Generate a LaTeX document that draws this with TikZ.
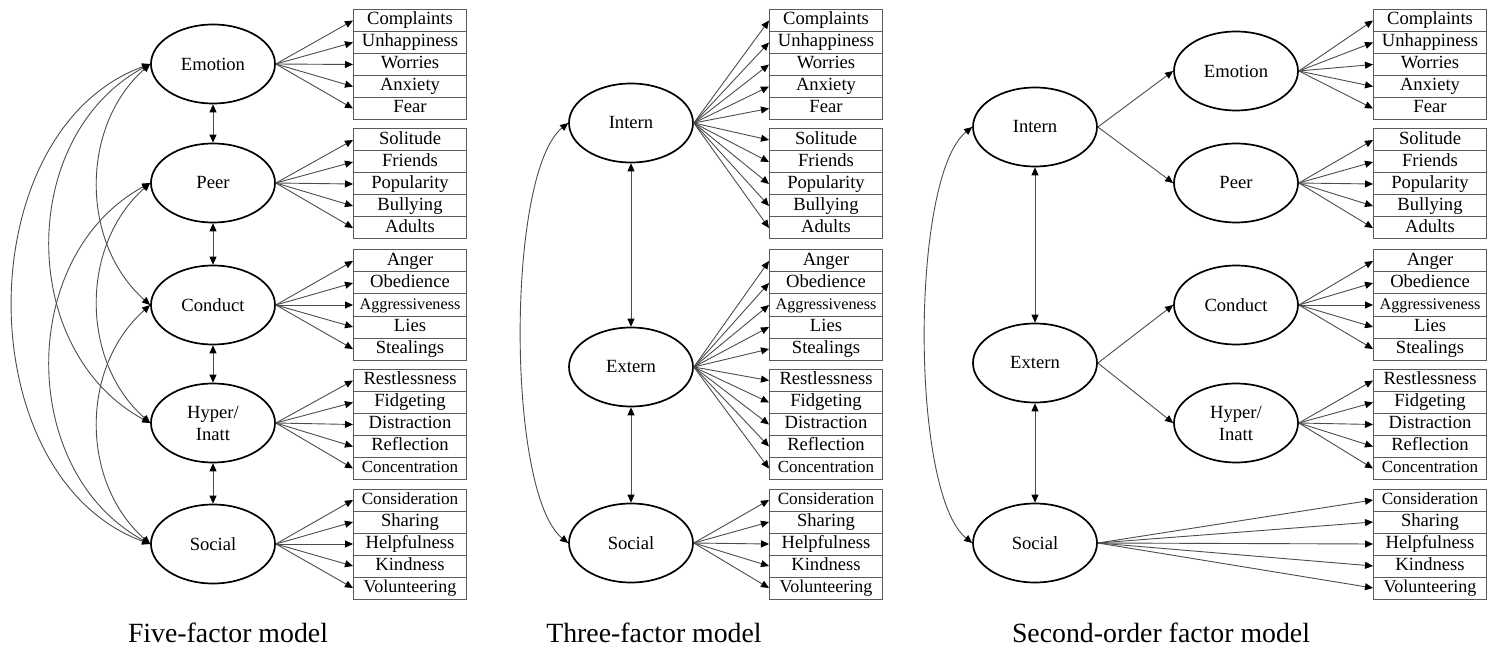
\documentclass[tikz,border=0pt]{standalone}
\usepackage{fontspec}
\setmainfont{Liberation Serif}
\usetikzlibrary{shapes.geometric,arrows.meta}

\newcommand{\grpi}{Complaints/18.6,Unhappiness/18.6,Worries/18.6,Anxiety/18.6,Fear/18.6}
\newcommand{\grpii}{Solitude/18.6,Friends/18.6,Popularity/18.6,Bullying/18.6,Adults/18.6}
\newcommand{\grpiii}{Anger/18.6,Obedience/18.6,Aggressiveness/16.2,Lies/18.6,Stealings/18.6}
\newcommand{\grpiv}{Restlessness/18.6,Fidgeting/18.6,Distraction/18.6,Reflection/18.6,Concentration/17.0}
\newcommand{\grpv}{Consideration/17.2,Sharing/18.6,Helpfulness/18.6,Kindness/18.6,Volunteering/18.0}

\newcommand{\obsset}[2]{%
  \foreach \gi/\gname/\cy in {1/grpi/64.5,2/grpii/184,3/grpiii/305,4/grpiv/424.5,5/grpv/544}{%
    \expandafter\let\expandafter\curlist\csname\gname\endcsname
    \foreach \lbltxt/\lblfs [count=\k from 0] in \curlist {%
      \node[obs, font=\fontsize{\lblfs}{\lblfs}\selectfont, anchor=west]
        (#1\gi-\k) at (#2, \cy+22*\k-44) {\lbltxt};
    }%
  }%
}

\begin{document}
\begin{tikzpicture}[x=1pt,y=-1pt,
  lat/.style={ellipse, draw=black, line width=1.7pt, minimum width=124pt,
    minimum height=79pt, inner sep=0pt, align=center,
    font=\fontsize{18.6}{22}\selectfont},
  obs/.style={rectangle, draw=black!65, line width=1pt, minimum width=113pt,
    minimum height=22pt, inner sep=0pt, text height=12.5pt, text depth=4pt},
  tip/.style={},
  pth/.style={draw=black!70, line width=0.9pt,
    -{Triangle[length=8pt,width=7pt,color=black,fill=black]}},
  cov/.style={draw=black!70, line width=0.9pt,
    {Triangle[length=8pt,width=7pt,color=black,fill=black]}-{Triangle[length=8pt,width=7pt,color=black,fill=black]}},
  ttl/.style={font=\fontsize{27.8}{30}\selectfont, inner sep=0pt}
]
\useasboundingbox (0,0) rectangle (1499,652);

% ---------------- Model 1: Five-factor ----------------
\obsset{A}{353}
\node[lat] (A-emo)  at (213,64)  {Emotion};
\node[lat] (A-peer) at (213,183) {Peer};
\node[lat] (A-cond) at (213,305) {Conduct};
\node[lat] (A-hyp)  at (213,423) {Hyper/\\Inatt};
\node[lat] (A-soc)  at (213,544) {Social};

\foreach \k in {0,...,4}{
  \draw[pth] (A-emo.east)  -- (A1-\k.west);
  \draw[pth] (A-peer.east) -- (A2-\k.west);
  \draw[pth] (A-cond.east) -- (A3-\k.west);
  \draw[pth] (A-hyp.east)  -- (A4-\k.west);
  \draw[pth] (A-soc.east)  -- (A5-\k.west);
}
\draw[cov] (A-emo) -- (A-peer);
\draw[cov] (A-peer) -- (A-cond);
\draw[cov] (A-cond) -- (A-hyp);
\draw[cov] (A-hyp) -- (A-soc);
% non-adjacent covariances
\draw[cov] (A-emo.west)  .. controls +(-70,62) and +(-70,-62) .. (A-cond.west);
\draw[cov] (A-peer.west) .. controls +(-70,62) and +(-70,-62) .. (A-hyp.west);
\draw[cov] (A-cond.west) .. controls +(-70,62) and +(-70,-62) .. (A-soc.west);
\draw[cov] (A-emo.west)  .. controls +(-133,72) and +(-133,-72) .. (A-hyp.west);
\draw[cov] (A-peer.west) .. controls +(-133,72) and +(-133,-72) .. (A-soc.west);
\draw[cov] (A-emo.west)  .. controls +(-183,67) and +(-183,-67) .. (A-soc.west);

\node[ttl] (t1) at (228,633) {Five-factor model};

% ---------------- Model 2: Three-factor ----------------
\obsset{B}{769}
\node[lat] (B-int) at (631,123) {Intern};
\node[lat] (B-ext) at (631,367) {Extern};
\node[lat] (B-soc) at (631,543) {Social};

\foreach \k in {0,...,4}{
  \draw[pth] (B-int.east) -- (B1-\k.west);
  \draw[pth] (B-int.east) -- (B2-\k.west);
  \draw[pth] (B-ext.east) -- (B3-\k.west);
  \draw[pth] (B-ext.east) -- (B4-\k.west);
  \draw[pth] (B-soc.east) -- (B5-\k.west);
}
\draw[cov] (B-int) -- (B-ext);
\draw[cov] (B-ext) -- (B-soc);
\draw[cov] (B-int.west) .. controls +(-62,50) and +(-62,-50) .. (B-soc.west);

\node[ttl] (t2) at (654,633) {Three-factor model};

% ---------------- Model 3: Second-order ----------------
\obsset{C}{1373}
\node[lat] (C-int)  at (1035,127) {Intern};
\node[lat] (C-ext)  at (1035,363) {Extern};
\node[lat] (C-soc)  at (1035,543) {Social};
\node[lat] (C-emo)  at (1236,71)  {Emotion};
\node[lat] (C-peer) at (1236,183) {Peer};
\node[lat] (C-cond) at (1236,305) {Conduct};
\node[lat] (C-hyp)  at (1236,423) {Hyper/\\Inatt};

\foreach \k in {0,...,4}{
  \draw[pth] (C-emo.east)  -- (C1-\k.west);
  \draw[pth] (C-peer.east) -- (C2-\k.west);
  \draw[pth] (C-cond.east) -- (C3-\k.west);
  \draw[pth] (C-hyp.east)  -- (C4-\k.west);
  \draw[pth] (C-soc.east)  -- (C5-\k.west);
}
\draw[pth] (C-int.east) -- (C-emo.west);
\draw[pth] (C-int.east) -- (C-peer.west);
\draw[pth] (C-ext.east) -- (C-cond.west);
\draw[pth] (C-ext.east) -- (C-hyp.west);
\draw[cov] (C-int) -- (C-ext);
\draw[cov] (C-ext) -- (C-soc);
\draw[cov] (C-int.west) .. controls +(-62,50) and +(-62,-50) .. (C-soc.west);

\node[ttl] (t3) at (1161,633) {Second-order factor model};
\end{tikzpicture}
\end{document}
